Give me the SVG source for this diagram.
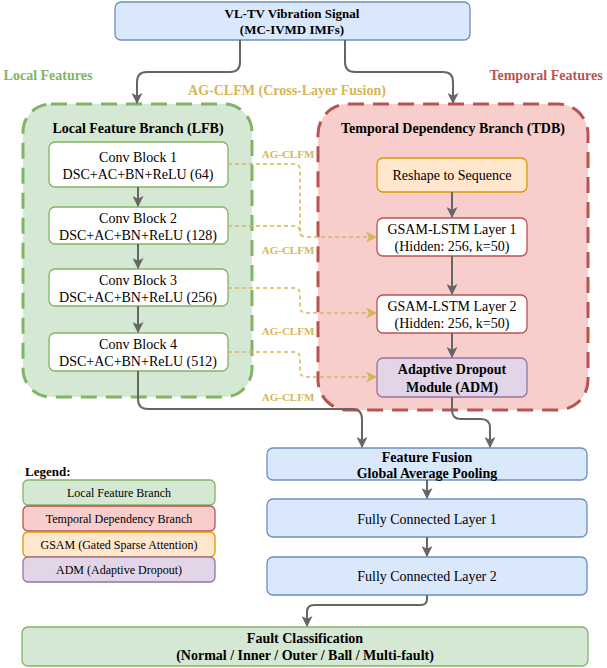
<svg xmlns="http://www.w3.org/2000/svg" width="607" height="668" viewBox="0 0 607 668">
<style>
text{font-family:"Liberation Serif","Times New Roman",serif;fill:#000;text-anchor:middle}
.t14{font-size:14px}
.b{font-weight:bold}
.t12{font-size:12px}
.ag{font-size:11px;font-weight:bold;fill:#d6b656}
.blue{fill:#dae8fc;stroke:#6c8ebf;stroke-width:1.3}
.wg{fill:#fff;stroke:#82b366;stroke-width:1.3}
.wr{fill:#fff;stroke:#b85450;stroke-width:1.3}
.conn{fill:none;stroke:#666;stroke-width:2}
.gold{fill:none;stroke:#d6b656;stroke-width:1.5;stroke-dasharray:4 3}
</style>
<defs>
<marker id="ah" viewBox="0 0 10 10" refX="9" refY="5" markerWidth="11" markerHeight="11" markerUnits="userSpaceOnUse" orient="auto"><path d="M0,0 L10,5 L0,10 L2.5,5 z" fill="#666"/></marker>
<marker id="ahg" viewBox="0 0 10 10" refX="9" refY="5" markerWidth="11" markerHeight="11" markerUnits="userSpaceOnUse" orient="auto"><path d="M0,0 L10,5 L0,10 L2.5,5 z" fill="#d6b656"/></marker>
</defs>
<rect width="607" height="668" fill="#fff"/>

<g id="labels">
<text x="48" y="80" class="t14 b" style="fill:#82b366">Local Features</text>
<text x="546" y="80" class="t14 b" style="fill:#b85450">Temporal Features</text>
<text x="287" y="95" class="t14 b" style="fill:#d6b656">AG-CLFM (Cross-Layer Fusion)</text>
</g>

<g id="input">
<rect x="115" y="2" width="355" height="38" rx="6" class="blue"/>
<text x="292" y="18" class="b" font-size="13">VL-TV Vibration Signal</text>
<text x="292" y="34" class="b" font-size="13">(MC-IVMD IMFs)</text>
</g>

<g id="lfb">
<rect x="23" y="104" width="229" height="293" rx="28" fill="#d5e8d4" stroke="#82b366" stroke-width="3" stroke-dasharray="16 9"/>
<text x="138" y="133" class="t14 b">Local Feature Branch (LFB)</text>
</g>
<g id="tdb">
<rect x="318" y="104" width="270" height="306" rx="30" fill="#f8cecc" stroke="#b85450" stroke-width="3" stroke-dasharray="16 9"/>
<text x="453" y="133" class="t14 b">Temporal Dependency Branch (TDB)</text>
</g>

<g id="conv1"><rect x="49" y="142" width="179" height="45" rx="6" class="wg"/>
<text x="138" y="162" class="t14">Conv Block 1</text><text x="138" y="179" class="t14">DSC+AC+BN+ReLU (64)</text></g>
<g id="conv2"><rect x="49" y="207" width="179" height="37" rx="6" class="wg"/>
<text x="138" y="223" class="t14">Conv Block 2</text><text x="138" y="240" class="t14">DSC+AC+BN+ReLU (128)</text></g>
<g id="conv3"><rect x="49" y="269" width="179" height="37" rx="6" class="wg"/>
<text x="138" y="285" class="t14">Conv Block 3</text><text x="138" y="302" class="t14">DSC+AC+BN+ReLU (256)</text></g>
<g id="conv4"><rect x="49" y="333" width="179" height="38" rx="6" class="wg"/>
<text x="138" y="349" class="t14">Conv Block 4</text><text x="138" y="366" class="t14">DSC+AC+BN+ReLU (512)</text></g>

<g id="reshape"><rect x="377" y="158" width="150" height="34" rx="6" fill="#ffe6cc" stroke="#d79b00" stroke-width="1.3"/>
<text x="452" y="180" class="t14">Reshape to Sequence</text></g>
<g id="gsam1"><rect x="377" y="218" width="150" height="38" rx="6" class="wr"/>
<text x="452" y="234" class="t14">GSAM-LSTM Layer 1</text><text x="452" y="251" class="t14">(Hidden: 256, k=50)</text></g>
<g id="gsam2"><rect x="377" y="295" width="150" height="38" rx="6" class="wr"/>
<text x="452" y="311" class="t14">GSAM-LSTM Layer 2</text><text x="452" y="328" class="t14">(Hidden: 256, k=50)</text></g>
<g id="adm"><rect x="377" y="358" width="150" height="39" rx="6" fill="#e1d5e7" stroke="#9673a6" stroke-width="1.3"/>
<text x="452" y="374" class="t14 b">Adaptive Dropout</text><text x="452" y="392" class="t14 b">Module (ADM)</text></g>

<g id="fusion"><rect x="267" y="448" width="320" height="32" rx="6" class="blue"/>
<text x="427" y="462" class="t14 b">Feature Fusion</text><text x="427" y="478" class="t14 b">Global Average Pooling</text></g>
<g id="fc1"><rect x="267" y="499" width="320" height="38" rx="6" class="blue"/>
<text x="427" y="524" class="t14">Fully Connected Layer 1</text></g>
<g id="fc2"><rect x="267" y="557" width="320" height="38" rx="6" class="blue"/>
<text x="427" y="581" class="t14">Fully Connected Layer 2</text></g>
<g id="fault"><rect x="22" y="627" width="566" height="39" rx="6" fill="#d5e8d4" stroke="#82b366" stroke-width="1.3"/>
<text x="305" y="643" class="t14 b">Fault Classification</text><text x="305" y="660" class="t14 b">(Normal / Inner / Outer / Ball / Multi-fault)</text></g>

<g id="legend">
<text x="25" y="476" class="b" font-size="13" style="text-anchor:start">Legend:</text>
<rect x="23" y="480" width="192" height="25" rx="5" fill="#d5e8d4" stroke="#82b366" stroke-width="1.3"/>
<text x="119" y="497" class="t12">Local Feature Branch</text>
<rect x="23" y="506" width="192" height="25" rx="5" fill="#f8cecc" stroke="#b85450" stroke-width="1.3"/>
<text x="119" y="523" class="t12">Temporal Dependency Branch</text>
<rect x="23" y="532" width="192" height="25" rx="5" fill="#ffe6cc" stroke="#d79b00" stroke-width="1.3"/>
<text x="119" y="549" class="t12">GSAM (Gated Sparse Attention)</text>
<rect x="23" y="557" width="192" height="25" rx="5" fill="#e1d5e7" stroke="#9673a6" stroke-width="1.3"/>
<text x="119" y="574" class="t12">ADM (Adaptive Dropout)</text>
</g>

<g id="connectors">
<path class="conn" d="M240,40 V62 Q240,72 230,72 H147 Q137,72 137,82 V103" marker-end="url(#ah)"/>
<path class="conn" d="M345,40 V62 Q345,72 355,72 H443 Q453,72 453,82 V103" marker-end="url(#ah)"/>
<path class="conn" d="M138,187 V206" marker-end="url(#ah)"/>
<path class="conn" d="M138,244 V268" marker-end="url(#ah)"/>
<path class="conn" d="M138,306 V332" marker-end="url(#ah)"/>
<path class="conn" d="M452,192 V217" marker-end="url(#ah)"/>
<path class="conn" d="M452,256 V294" marker-end="url(#ah)"/>
<path class="conn" d="M452,333 V357" marker-end="url(#ah)"/>
<path class="conn" d="M138,371 V399 Q138,409 148,409 H352 Q362,409 362,419 V447" marker-end="url(#ah)"/>
<path class="conn" d="M452,397 V410 Q452,419 461,419 H481 Q490,419 490,428 V447" marker-end="url(#ah)"/>
<path class="conn" d="M427,480 V498" marker-end="url(#ah)"/>
<path class="conn" d="M427,537 V556" marker-end="url(#ah)"/>
<path class="conn" d="M427,595 V599 Q427,605 421,605 H314 Q307,605 307,612 V626" marker-end="url(#ah)"/>
<path class="gold" d="M228,164 H294 Q300,164 300,170 V231 Q300,237 306,237 H376" marker-end="url(#ahg)"/>
<path class="gold" d="M228,226 H294 Q300,226 300,232 Q300,237 306,237"/>
<path class="gold" d="M228,288 H294 Q300,288 300,294 V307 Q300,313 306,313 H376" marker-end="url(#ahg)"/>
<path class="gold" d="M228,352 H294 Q300,352 300,358 V371 Q300,377 306,377 H376" marker-end="url(#ahg)"/>
</g>
<g id="aglabels">
<text x="288" y="158" class="ag">AG-CLFM</text>
<text x="288" y="254" class="ag">AG-CLFM</text>
<text x="288" y="335" class="ag">AG-CLFM</text>
<text x="288" y="401" class="ag">AG-CLFM</text>
</g>
</svg>
